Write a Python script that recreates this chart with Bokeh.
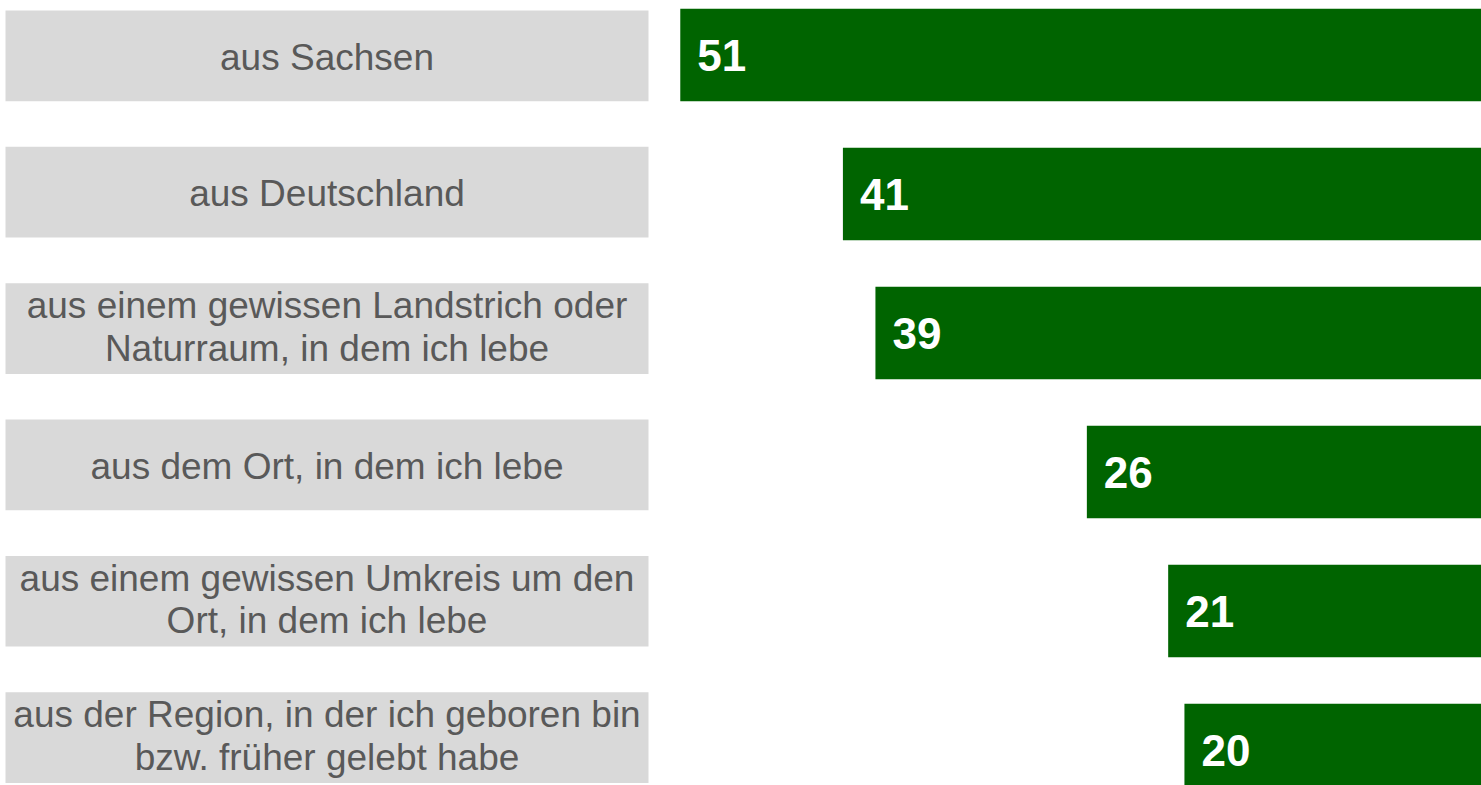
from bokeh.plotting import figure
from bokeh.layouts import row
from bokeh.models import ColumnDataSource, Range1d
from bokeh.core.properties import value
from bokeh.embed import file_html
from bokeh.resources import INLINE

categories = [
    "aus Sachsen",
    "aus Deutschland",
    "aus einem gewissen Landstrich oder\nNaturraum, in dem ich lebe",
    "aus dem Ort, in dem ich lebe",
    "aus einem gewissen Umkreis um den\nOrt, in dem ich lebe",
    "aus der Region, in der ich geboren bin\nbzw. früher gelebt habe",
]
values = [51, 41, 39, 26, 21, 20]
value_labels = [str(v) for v in values]

idx = list(range(len(categories)))

H = 785
LW = 664
RW = 1481 - LW
LINE_GAP = 42.3

# split the multi-line labels into single text lines with pixel offsets
ly, ltext, loff = [], [], []
for i, cat in enumerate(categories):
    lines = cat.split("\n")
    n = len(lines)
    base = 1.5 if n == 1 else -1.5
    for j, line in enumerate(lines):
        ly.append(i)
        ltext.append(line)
        loff.append(base + (j - (n - 1) / 2) * LINE_GAP)

# ---- left: gray label boxes ----
box_src = ColumnDataSource(dict(y=idx))
txt_src = ColumnDataSource(dict(y=ly, t=ltext, off=loff))
pl = figure(width=LW, height=H, output_backend="svg", toolbar_location=None,
            x_range=Range1d(0, LW), y_range=Range1d(5.3513, -0.4059),
            min_border=0, outline_line_color=None)
pl.hbar(y="y", left=5, right=648, height=0.6652, source=box_src,
        fill_color="#D9D9D9", line_color=None)
pl.text(x=326.5, y="y", text="t", y_offset="off", source=txt_src,
        text_font=value("Liberation Sans"), text_font_size="37px",
        text_color="#595959", text_align="center", text_baseline="alphabetic")
pl.axis.visible = False
pl.grid.visible = False

# ---- right: green bars ----
right_src = ColumnDataSource(dict(y=idx, v=values, lab=value_labels))
pr = figure(width=RW, height=H, output_backend="svg", toolbar_location=None,
            x_range=Range1d(51.97, 1.734), y_range=Range1d(5.2554, -0.3921),
            min_border=0, outline_line_color=None)
pr.hbar(y="y", left=0, right="v", height=0.6647, source=right_src,
        fill_color="#006400", line_color=None)
pr.text(x="v", y="y", text="lab", source=right_src, x_offset=17, y_offset=0.5,
        text_font=value("Liberation Sans"), text_font_size="44px",
        text_font_style="bold", text_color="white",
        text_align="left", text_baseline="alphabetic")
pr.axis.visible = False
pr.grid.visible = False

layout = row(pl, pr, spacing=0)
open("out.html", "w").write(file_html(layout, INLINE))
